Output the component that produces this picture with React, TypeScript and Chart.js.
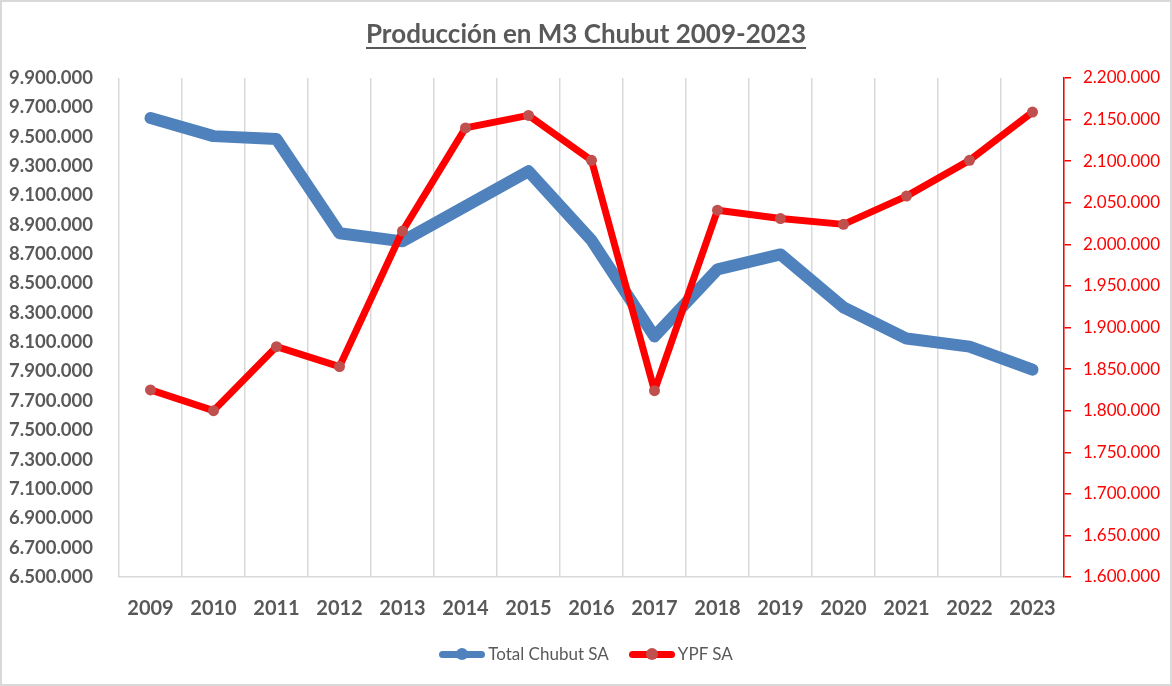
import * as React from "react";
import { useEffect, useRef } from "react";
import { Chart, registerables } from "chart.js";

Chart.register(...registerables);

const years = ["2009", "2010", "2011", "2012", "2013", "2014", "2015", "2016", "2017", "2018", "2019", "2020", "2021", "2022", "2023"];
const totalChubut = [9627000, 9504000, 9484000, 8842000, 8787000, 9026000, 9265000, 8794000, 8139000, 8596000, 8698000, 8337000, 8125000, 8070000, 7913000];
const ypf = [1825000, 1800000, 1877000, 1853000, 2016000, 2140000, 2155000, 2101000, 1824000, 2041000, 2031000, 2024000, 2058000, 2101000, 2159000];

const leftMin = 6500000;
const leftMax = 9900000;
const leftStep = 200000;
const rightMin = 1600000;
const rightMax = 2200000;
const rightStep = 50000;

const blue = "#4F81BD";
const red = "#FF0000";
const redMarker = "#C0504D";
const gray = "#595959";
const gridGray = "#d9d9d9";
const font = "Lato";

const fmt = (v: number) => String(Math.round(v)).replace(/\B(?=(\d{3})+(?!\d))/g, ".");

function LegendItem({ color, marker, text }: { color: string; marker: string; text: string }) {
  return (
    <div style={{ display: "flex", alignItems: "center", marginRight: 20 }}>
      <div style={{ position: "relative", width: 46, height: 7, background: color, borderRadius: 4 }}>
        <div
          style={{
            position: "absolute",
            left: 17,
            top: -2.5,
            width: 12,
            height: 12,
            borderRadius: 6,
            background: marker,
          }}
        />
      </div>
      <span style={{ marginLeft: 3, color: gray, fontSize: 17 }}>{text}</span>
    </div>
  );
}

export default function App() {
  const canvasRef = useRef<HTMLCanvasElement | null>(null);

  useEffect(() => {
    if (!canvasRef.current) return;
    const chart = new Chart(canvasRef.current, {
      type: "line",
      data: {
        labels: years,
        datasets: [
          {
            label: "Total Chubut SA",
            data: totalChubut,
            yAxisID: "y",
            borderColor: blue,
            backgroundColor: blue,
            borderWidth: 12,
            borderJoinStyle: "round",
            borderCapStyle: "round",
            pointRadius: 5,
            pointBorderWidth: 0,
            pointBackgroundColor: blue,
            tension: 0,
            order: 1,
          },
          {
            label: "YPF SA",
            data: ypf,
            yAxisID: "y1",
            borderColor: red,
            backgroundColor: redMarker,
            borderWidth: 7,
            borderJoinStyle: "round",
            borderCapStyle: "round",
            pointRadius: 5.5,
            pointBorderWidth: 0,
            pointBackgroundColor: redMarker,
            tension: 0,
            order: 0,
          },
        ],
      },
      options: {
        responsive: false,
        animation: false,
        layout: { padding: { top: 78, left: 0, right: 0, bottom: 0 } },
        plugins: {
          legend: { display: false },
          title: { display: false },
          tooltip: { enabled: false },
        },
        scales: {
          x: {
            type: "category",
            offset: true,
            grid: { offset: true, color: gridGray, lineWidth: 1.5, drawTicks: false },
            border: { color: gridGray, width: 1.5 },
            ticks: { padding: 20, color: gray, font: { family: font, size: 20, weight: "bold" } },
            afterFit: (s: any) => {
              s.height = 109;
            },
          },
          y: {
            position: "left",
            min: leftMin,
            max: leftMax,
            grid: { display: false },
            border: { display: false },
            ticks: {
              stepSize: leftStep,
              padding: 18,
              color: gray,
              font: { family: font, size: 18.5, weight: "bold" },
              callback: (v: any) => fmt(Number(v)),
            },
            afterFit: (s: any) => {
              s.width = 119;
            },
          },
          y1: {
            position: "right",
            min: rightMin,
            max: rightMax,
            grid: { drawOnChartArea: false, color: red, lineWidth: 1.5, tickLength: 7 },
            border: { color: red, width: 1.5 },
            ticks: {
              stepSize: rightStep,
              padding: 12,
              color: red,
              font: { family: font, size: 17 },
              callback: (v: any) => fmt(Number(v)),
            },
            afterFit: (s: any) => {
              s.width = 108;
            },
          },
        },
      },
    });
    return () => chart.destroy();
  }, []);

  return (
    <div style={{ position: "absolute", left: 0, top: 0, width: 1172, height: 686, background: "#fff", fontFamily: font }}>
      <canvas ref={canvasRef} width={1172} height={686} style={{ position: "absolute", left: 0, top: 0 }} />
      <div
        style={{
          position: "absolute",
          top: 19,
          left: 0,
          width: 1172,
          textAlign: "center",
          lineHeight: "28px",
          fontSize: 26,
          fontWeight: "bold",
          color: gray,
          textDecoration: "underline",
          textUnderlineOffset: 4,
        }}
      >
        Producción en M3 Chubut 2009-2023
      </div>
      <div
        style={{
          position: "absolute",
          top: 642,
          left: 10,
          width: 1172,
          display: "flex",
          justifyContent: "center",
          lineHeight: "24px",
        }}
      >
        <LegendItem color={blue} marker={blue} text="Total Chubut SA" />
        <LegendItem color={red} marker={redMarker} text="YPF SA" />
      </div>
      <div
        style={{
          position: "absolute",
          left: 0,
          top: 0,
          width: 1172,
          height: 686,
          boxSizing: "border-box",
          border: `2px solid ${gridGray}`,
          pointerEvents: "none",
        }}
      />
    </div>
  );
}
